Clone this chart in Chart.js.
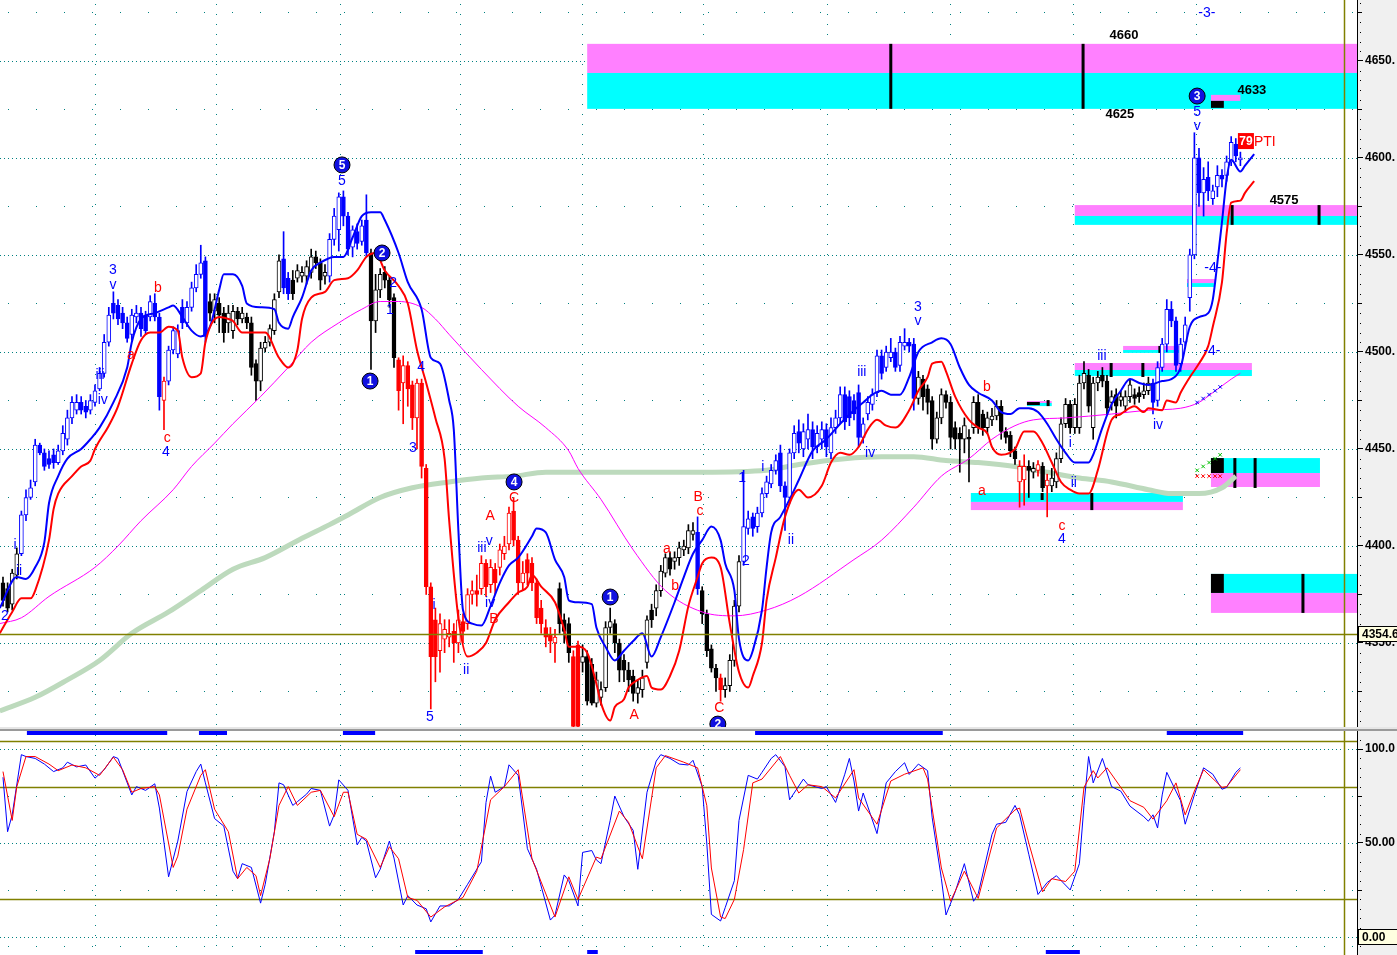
<!DOCTYPE html>
<html>
<head>
<meta charset="utf-8">
<title>Wave count chart</title>
<script src="https://cdn.jsdelivr.net/npm/chart.js@4.4.1/dist/chart.umd.min.js"></script>
<style>
  html, body { margin: 0; padding: 0; background: #fff; }
  #wrap { position: relative; width: 1397px; height: 955px; overflow: hidden; }
  #priceChart { position: absolute; left: 0; top: 0; }
  #sep { position: absolute; left: 0; top: 727px; width: 1397px; height: 4px;
         background: linear-gradient(#e6e6e6 0 50%, #9a9a9a 50% 100%); }
  #stochChart { position: absolute; left: 0; top: 731px; }
</style>
</head>
<body>
<div id="wrap">
  <canvas id="priceChart" width="1397" height="727"></canvas>
  <div id="sep"></div>
  <canvas id="stochChart" width="1397" height="224"></canvas>
</div>
<script>
// ---- price bars (one per session) ----
const opens = [
  4381,4378,4370,4385,4396,4416,4425,4433,4452,4448, 4445,4447,4443,4449,4455,4466,4470,4474,4472,4470,
  4474,4481,4489,4505,4525,4524,4520,4515,4509,4518, 4520,4519,4518,4525,4518,4475,4485,4501,4499,4523,
  4515,4523,4533,4540,4547,4526,4521,4525,4520,4515, 4511,4521,4517,4518,4515,4494,4485,4502,4505,4511,
  4531,4548,4538,4537,4538,4539,4539,4541,4549,4546, 4539,4539,4558,4563,4580,4570,4554,4562,4557,4568,
  4551,4516,4532,4541,4537,4528,4496,4484,4493,4483, 4466,4484,4440,4379,4362,4346,4352,4353,4356,4350,
  4361,4360,4375,4377,4378,4391,4380,4388,4389,4396, 4401,4418,4403,4381,4393,4391,4381,4368,4358,4354,
  4350,4378,4362,4360,4343,4349,4340,4343,4339,4319, 4322,4327,4358,4360,4350,4341,4336,4333,4324,4326,
  4340,4367,4368,4377,4386,4394,4392,4394,4398,4399, 4406,4407,4377,4365,4347,4337,4332,4326,4328,4341,
  4369,4392,4409,4415,4410,4417,4427,4432,4439,4448, 4431,4425,4448,4459,4450,4455,4460,4451,4455,4460,
  4448,4461,4466,4478,4477,4475,4479,4456,4468,4473, 4479,4498,4492,4497,4500,4493,4503,4505,4504,4476,
  4486,4481,4475,4455,4466,4478,4474,4461,4458,4455, 4456,4461,4474,4468,4461,4465,4467,4472,4459,4457,
  4449,4433,4434,4441,4438,4439,4441,4431,4431,4433, 4445,4463,4473,4461,4461,4484,4488,4461,4484,4488,
  4485,4474,4478,4475,4472,4477,4478,4479,4478,4480, 4484,4475,4492,4504,4522,4516,4494,4505,4528,4550,
  4600,4582,4590,4579,4585,4591,4591,4598,4607,4599
];
const highs = [
  4384,4381,4388,4399,4418,4429,4434,4455,4453,4450, 4449,4450,4452,4462,4470,4477,4478,4477,4475,4478,
  4483,4492,4509,4523,4531,4527,4523,4518,4522,4524, 4523,4521,4529,4530,4520,4487,4503,4513,4514,4527,
  4526,4536,4545,4555,4549,4530,4530,4528,4523,4524, 4524,4523,4523,4520,4518,4496,4505,4508,4514,4530,
  4550,4562,4541,4542,4545,4544,4547,4553,4552,4548, 4545,4561,4574,4582,4583,4572,4565,4566,4568,4581,
  4553,4540,4543,4544,4539,4530,4497,4498,4495,4485, 4486,4486,4442,4381,4368,4365,4362,4362,4360,4367,
  4365,4378,4382,4385,4395,4393,4393,4391,4401,4405, 4420,4425,4405,4392,4396,4394,4383,4372,4362,4358,
  4357,4381,4365,4363,4346,4351,4349,4346,4342,4335, 4330,4361,4368,4362,4352,4344,4340,4336,4331,4336,
  4364,4370,4380,4390,4396,4397,4397,4402,4403,4411, 4412,4415,4379,4367,4349,4339,4334,4332,4344,4372,
  4395,4439,4418,4417,4420,4430,4436,4442,4447,4452, 4433,4450,4462,4465,4463,4468,4464,4462,4464,4463,
  4466,4470,4482,4482,4480,4478,4483,4466,4477,4481, 4501,4501,4503,4507,4502,4508,4512,4507,4507,4490,
  4488,4483,4477,4469,4481,4480,4477,4464,4461,4466, 4460,4477,4478,4470,4469,4471,4475,4475,4461,4459,
  4451,4444,4447,4444,4443,4444,4443,4437,4440,4448, 4466,4476,4475,4476,4488,4495,4491,4487,4490,4492,
  4488,4480,4481,4480,4480,4486,4481,4482,4484,4487, 4486,4495,4507,4527,4526,4518,4507,4518,4553,4613,
  4605,4595,4598,4586,4596,4594,4601,4611,4610,4603
];
const lows = [
  4369,4366,4367,4383,4395,4413,4424,4431,4447,4439, 4440,4440,4442,4447,4452,4463,4468,4468,4466,4468,
  4472,4480,4487,4503,4517,4514,4512,4505,4506,4515, 4508,4509,4516,4516,4470,4460,4483,4499,4497,4512,
  4513,4521,4531,4538,4505,4516,4515,4510,4505,4510, 4507,4514,4515,4512,4488,4475,4480,4500,4503,4509,
  4528,4530,4527,4527,4536,4536,4535,4538,4543,4532, 4535,4536,4555,4552,4565,4550,4549,4553,4555,4549,
  4491,4510,4528,4533,4523,4492,4470,4463,4472,4460, 4450,4435,4375,4316,4330,4335,4345,4348,4340,4345,
  4350,4357,4370,4369,4375,4374,4376,4375,4385,4393, 4398,4400,4375,4377,4380,4377,4360,4355,4348,4345,
  4340,4355,4350,4340,4300,4300,4335,4318,4318,4317, 4318,4325,4355,4345,4330,4330,4325,4320,4319,4322,
  4337,4358,4364,4374,4384,4385,4388,4390,4395,4396, 4403,4375,4360,4343,4335,4325,4320,4322,4325,4338,
  4366,4390,4406,4405,4407,4415,4425,4430,4437,4428, 4408,4422,4445,4448,4446,4450,4445,4448,4450,4446,
  4445,4458,4463,4460,4462,4465,4451,4453,4465,4470, 4477,4486,4490,4495,4490,4490,4501,4500,4470,4473,
  4470,4468,4450,4453,4463,4471,4450,4450,4438,4448, 4433,4458,4458,4457,4458,4462,4465,4455,4453,4446,
  4442,4420,4421,4425,4435,4436,4428,4415,4428,4430, 4443,4461,4458,4458,4458,4481,4469,4455,4480,4482,
  4468,4470,4466,4472,4469,4474,4473,4474,4476,4478, 4468,4472,4490,4500,4513,4490,4490,4503,4521,4548,
  4575,4570,4578,4576,4580,4585,4588,4596,4598,4596
];
const closes = [
  4372,4368,4386,4396,4416,4425,4430,4452,4448,4441, 4442,4443,4449,4458,4466,4474,4474,4470,4469,4475,
  4480,4489,4505,4519,4520,4517,4515,4507,4519,4520, 4512,4511,4526,4518,4477,4485,4501,4511,4511,4515,
  4523,4533,4540,4546,4508,4520,4527,4519,4510,4520, 4521,4517,4520,4515,4492,4485,4502,4505,4512,4527,
  4547,4533,4530,4530,4542,4541,4544,4549,4546,4537, 4541,4558,4570,4580,4570,4553,4563,4556,4565,4551,
  4516,4532,4540,4537,4527,4497,4480,4493,4481,4466, 4484,4441,4379,4343,4343,4360,4357,4355,4350,4362,
  4356,4375,4377,4375,4391,4379,4389,4381,4398,4400, 4417,4403,4381,4386,4386,4381,4363,4360,4353,4351,
  4353,4360,4356,4345,4307,4307,4343,4320,4319,4331, 4326,4358,4361,4350,4336,4336,4331,4324,4327,4332,
  4362,4362,4377,4387,4394,4388,4394,4399,4400,4408, 4408,4378,4365,4346,4337,4332,4326,4328,4341,4369,
  4392,4410,4414,4409,4417,4427,4433,4439,4444,4431, 4425,4448,4458,4453,4459,4460,4451,4458,4460,4451,
  4461,4466,4478,4464,4466,4468,4456,4463,4474,4478, 4498,4489,4500,4500,4492,4505,4505,4503,4476,4487,
  4477,4474,4455,4466,4478,4474,4456,4455,4455,4462, 4455,4474,4461,4461,4466,4467,4472,4459,4456,4449,
  4445,4441,4441,4439,4440,4442,4430,4434,4435,4445, 4463,4473,4461,4473,4484,4489,4472,4484,4487,4485,
  4471,4477,4472,4477,4477,4483,4476,4477,4480,4484, 4474,4492,4504,4522,4516,4493,4504,4514,4550,4600,
  4582,4589,4583,4583,4591,4589,4598,4608,4601,4600
];
// trend state that colours each bar: 1 up, 0 neutral, -1 down
const trend = [
  0,0,0,0,1,1,1,1,1,1, 1,1,1,1,1,1,1,1,1,1, 1,1,1,1,1,1,1,1,1,1, 1,1,1,1,1,-1,1,1,1,1,
  1,1,1,1,1,0,0,0,0,0, 0,0,0,0,0,0,0,0,0,0, 0,1,1,0,0,0,0,0,0,0, 0,1,1,1,1,1,1,1,1,1,
  0,0,0,0,0,0,-1,-1,-1,-1, -1,-1,-1,-1,-1,-1,-1,-1,-1,-1, -1,-1,-1,-1,-1,-1,-1,-1,-1,-1, -1,-1,-1,-1,-1,-1,-1,-1,-1,-1,
  -1,0,0,0,-1,-1,0,0,0,0, 0,0,0,0,0,0,0,0,0,0, 0,0,0,0,0,0,0,0,0,0, 0,1,0,0,0,0,-1,0,0,0,
  0,1,1,1,1,1,1,1,1,1, 1,1,1,1,1,1,1,1,1,1, 1,1,1,1,1,1,1,1,1,1, 1,1,1,1,1,1,1,1,1,0,
  0,0,0,0,0,0,0,0,0,0, 0,0,0,0,0,0,0,0,0,0, 0,-1,-1,0,0,-1,0,-1,0,0, 0,0,0,0,0,0,0,0,0,0,
  0,0,0,0,0,0,0,0,0,0, 1,1,1,1,1,1,1,1,1,1, 1,1,1,1,1,1,1,1,1,1
];

// ---- overlay averages (bar index, price) ----
const fastIdx = [-0.7,3,5,7,9,10,12,14,17,19,21,24,27,28,30,33,36,37,39,41,43,45,47,48,50,52,53,56,59,60,62,63,65,67,69,72,74,76,78,80,82,83,86,88,91,93,95,97,98,99,100,102,104,106,108,110,112,115,116,118,120,122,123,125,128,129,131,133,135,137,139,141,143,146,148,150,152,154,156,157,159,160,162,163,165,166,167,169,171,173,176,179,182,185,187,189,191,193,195,197,199,202,204,206,208,210,212,215,217,219,221,223,225,227,229,231,233,236,237,239,241,243,245,247,249,252,254,256,258,260,262,263,264,265,266,267,269,270,272];
const fastVals = [4368,4384,4383,4389,4402,4422,4436,4445,4450,4455,4461,4474,4492,4505,4517,4520,4523,4524,4518,4511,4508,4513,4532,4540,4540,4534,4525,4523,4522,4515,4512,4518,4528,4542,4546,4549,4549,4559,4570,4572,4572,4568,4551,4536,4522,4497,4494,4475,4460,4408,4367,4360,4359,4369,4381,4390,4394,4405,4409,4407,4393,4384,4372,4371,4370,4358,4348,4341,4346,4351,4355,4343,4353,4371,4384,4396,4403,4410,4403,4391,4377,4352,4341,4346,4367,4389,4407,4415,4424,4434,4449,4455,4463,4470,4474,4478,4480,4478,4478,4487,4500,4505,4507,4504,4492,4483,4479,4475,4469,4468,4471,4471,4469,4463,4455,4448,4443,4443,4447,4461,4473,4480,4486,4484,4483,4485,4486,4492,4513,4518,4520,4527,4546,4567,4589,4599,4593,4596,4602];

const slowIdx = [-0.7,2,4,6,7,10,11,12,15,17,19,20,23,25,28,30,32,34,36,38,39,41,43,44,47,49,50,52,54,57,60,62,64,65,67,70,72,75,77,79,81,83,86,88,90,92,94,96,97,99,101,103,105,107,110,112,114,115,117,120,122,123,125,127,129,130,132,133,135,136,138,140,141,143,145,147,149,151,152,154,156,158,160,162,163,165,166,168,170,173,175,178,180,182,184,186,188,190,192,194,197,199,201,202,204,205,207,210,212,214,215,217,220,222,224,226,228,230,232,234,236,238,240,241,243,246,248,249,252,253,255,256,258,260,262,263,265,266,267,269,270,272];
const slowVals = [4355,4366,4373,4373,4377,4403,4419,4427,4436,4441,4444,4450,4462,4472,4494,4506,4510,4510,4513,4511,4497,4487,4489,4505,4518,4517,4516,4510,4510,4510,4497,4492,4501,4517,4528,4531,4537,4538,4542,4549,4551,4542,4534,4525,4501,4484,4466,4445,4413,4363,4343,4345,4350,4362,4371,4376,4379,4385,4379,4371,4357,4348,4348,4345,4329,4319,4310,4317,4321,4327,4331,4333,4327,4326,4333,4346,4369,4384,4391,4394,4389,4360,4335,4327,4333,4350,4372,4394,4415,4429,4425,4431,4443,4448,4447,4451,4460,4465,4462,4461,4470,4480,4487,4494,4495,4490,4477,4465,4461,4458,4451,4447,4450,4459,4459,4453,4443,4433,4429,4427,4427,4439,4458,4465,4468,4472,4469,4471,4470,4475,4474,4479,4487,4494,4503,4513,4536,4561,4577,4578,4582,4588];

const midIdx = [-0.7,4,10,20,25,30,37,41,46,50,56,62,67,73,78,82,86,91,94,97,104,112,118,123,125,130,137,144,152,159,166,173,185,191,198,204,210,215,220,224,231,241,249,256,260,263,267,269];
const midVals = [4360,4363,4374,4389,4400,4413,4429,4441,4453,4463,4477,4492,4505,4515,4522,4526,4526,4523,4517,4509,4491,4472,4461,4449,4440,4424,4398,4377,4366,4364,4367,4374,4393,4403,4420,4436,4445,4455,4462,4465,4466,4468,4470,4471,4474,4479,4486,4489];

const longIdx = [-0.7,7,14,21,28,36,43,50,57,65,71,75,82,89,97,104,111,118,125,137,152,166,173,183,191,198,205,212,220,227,234,241,249,254,260,265,268];
const longVals = [4315,4322,4331,4341,4355,4366,4377,4388,4394,4404,4411,4416,4425,4430,4433,4435,4436,4438,4438,4438,4438,4439,4442,4445,4446,4446,4444,4443,4441,4438,4435,4433,4429,4427,4427,4430,4436];

// small projection marks near the last bars
const markIdx = [259.6, 260.9, 262.2, 263.5, 264.6];
const greenMarks = [4439, 4441, 4443, 4445, 4447];
const redMarks = [4436, 4436, 4436, 4436, 4436];
const blueMarks = [4474, 4476, 4478, 4480, 4482];

// ---- stochastic ----
const kIdx = [0,1,2,4,5,7,9,11,13,14,16,18,20,22,24,25,28,29,31,33,34,36,38,40,42,43,44,46,48,50,51,52,54,56,57,59,60,61,63,64,66,67,69,71,72,73,75,77,78,79,81,82,84,85,87,88,90,92,93,95,97,99,101,104,105,106,107,109,110,112,114,116,119,120,122,123,125,126,128,129,130,132,133,135,137,138,140,142,143,145,147,149,150,152,153,154,156,157,159,160,162,164,165,167,168,170,171,174,175,178,179,181,183,184,185,186,187,190,192,194,196,197,199,201,202,204,205,207,209,211,212,215,216,218,220,221,223,225,227,229,232,234,235,236,237,239,241,243,245,248,249,250,251,252,253,256,257,259,261,263,265,266,268,269];
const kVals = [85,56,65,97,96,95,92,88,90,93,90.5,91.5,84.5,89,96,95,75.6,80,78,81.5,68.6,32,51,77.4,88,92,82,63,59,35,31,39,37,18,28,56,82,81,70,72,76,79,78,59,65,83.6,78,49,53,51,31.5,36,51,42,17,22,17,15,8,16.5,16.5,20,28,40,71.5,85.6,77,80,91.6,86,47,36,9,11.6,33,30,16.5,45,46,41,39,62,75,64,56.7,36,77,93.6,97,95,92,91.5,94,80,50,12,8.5,15.6,30,62,86,84,87.6,95,97,90.6,73,84,81,79,80,71.6,86.6,95,83,67,76.6,55,82,88,92.7,86.5,92,88.5,63.4,31,11.7,24,39,19,23,54.6,60,61,70,65,44,22.6,29,32.6,25,39,70,96,82,95,80,77.6,69.6,64,61.6,65,58,75.6,87.6,72.5,60,75.6,90,86.6,78.6,79.6,87.6,90];
const dIdx = [0,2,3,5,7,10,12,15,18,21,24,26,28,30,33,34,37,38,40,43,44,46,49,51,53,55,56,58,60,62,64,67,69,72,74,75,77,79,82,84,86,88,90,93,96,100,103,106,109,112,115,120,123,125,129,130,134,136,139,142,144,148,151,153,154,156,157,159,161,163,165,169,171,173,175,178,181,185,186,190,193,196,200,201,204,206,209,212,216,220,221,223,226,228,231,233,235,237,238,240,243,245,248,250,253,255,257,259,261,265,266,269];
const dVals = [88,62,80,96,96,92,88.5,91.5,90,86,95.7,89,77,79,80,75.6,37,43,68,86,89,68,56,31,37,32.6,22,41.6,70,80,70,77,78,64,77,77,54.6,52,37,48,41.6,21,19.5,10.6,16,21,35,73,80,89,41.6,10.6,32,20,42.5,41.6,67,61,41.6,90,96.5,93,90,70,36.7,10.6,9.8,20,46.5,82,84,96,86,76.6,81,80,74,89,74,60,83,86.6,90,84,36.7,19,35,20.5,58,67.6,68.6,50,24,31,29.5,35,79.6,88.5,84.6,90,79.6,72.5,69,62.7,72.5,82,65,77.6,89,79.6,80,89];

// signal strips (bar ranges)
const sigTopFrom = [5.2, 42.6, 73.9, 163.5, 253.0];
const sigTopTo = [35.7, 48.7, 80.9, 204.3, 269.6];
const sigBotFrom = [89.6, 127.0, 226.7];
const sigBotTo = [104.3, 129.3, 234.1];
const SIG_TOP = 108.5, SIG_BOT = -8;

// time grid (bar index) and reference levels
const timeGrid = [20, 46.3, 73.3, 99.3, 125.9, 152.2, 179.1, 205.9, 232.6, 259.3];
const REF_PRICE = 4354.6;
const REF_BAR = 291.5;

// ---- annotations (bar index, price) ----
// [start, end, upper, mid, lower, magentaOnTop]
const zones = [
  [127, 294.4, 4658.8, 4643.8, 4625.3, true],
  [233, 294.4, 4575.7, 4570.1, 4565.5, true],
  [257.4, 263.5, 4537.6, 4535.5, 4533.5, true],
  [243.5, 255.9, 4503.1, 4501.0, 4499.5, true],
  [233, 271.5, 4494.3, 4490.7, 4487.6, true],
  [222.6, 228, 4474.7, 4473.7, 4472.1, true],
  [210.4, 256.5, 4427.3, 4422.7, 4418.5, false],
  [262.6, 286.3, 4445.3, 4437.6, 4430.4, false],
  [262.6, 294.4, 4385.6, 4375.8, 4365.5, false],
  [262.6, 269, 4632.5, 4629.4, 4629.4, true]
];
const blocks = [
  [262.6, 265.4, 4629.4, 4625.8], [262.6, 265.4, 4445.3, 4437.6],
  [262.6, 265.4, 4385.6, 4375.8], [222.6, 225.4, 4474.2, 4472.6]
];
const stems = [
  [193, 4658.8, 4625.3], [234.8, 4658.8, 4625.3], [267.2, 4575.7, 4565.5], [286.1, 4575.7, 4565.5],
  [240.9, 4494.3, 4487.1], [247.8, 4494.3, 4487.1], [236.7, 4427.3, 4418.5], [267.8, 4445.3, 4429.9],
  [272.2, 4445.3, 4429.9], [282.6, 4385.6, 4365.5], [227.2, 4475.2, 4472.1], [225.9, 4427.3, 4423.7],
  [251.5, 4503.1, 4499.5]
];
const waveLabels = [
  ['2', 0.4, 4363.9, 'b'], ['i', 2.6, 4400.5, 'b'], ['ii', 3.5, 4387.1, 'b'], ['iii', 21.1, 4488.1, 'b'],
  ['iv', 21.7, 4475.3, 'b'], ['3', 23.9, 4542.3, 'b'], ['v', 23.9, 4534.5, 'b'], ['a', 27.8, 4498.4, 'r'],
  ['b', 33.7, 4533.0, 'r'], ['c', 35.7, 4455.7, 'r'], ['4', 35.4, 4448.4, 'b'], ['5', 73.7, 4588.1, 'b'],
  ['1', 84.1, 4521.6, 'b'], ['2', 84.8, 4535.6, 'b'], ['4', 90.9, 4492.3, 'b'], ['3', 89.1, 4450.5, 'b'],
  ['i', 93.7, 4369.6, 'b'], ['5', 92.8, 4311.8, 'b'], ['ii', 100.7, 4336.1, 'b'], ['iii', 104.1, 4398.9, 'b'],
  ['v', 105.7, 4402.5, 'b'], ['iv', 105.9, 4370.6, 'b'], ['A', 105.9, 4415.4, 'r'], ['B', 106.7, 4362.4, 'r'],
  ['C', 111.1, 4424.7, 'r'], ['A', 137.2, 4312.9, 'r'], ['a', 144.3, 4398.4, 'r'], ['b', 146.1, 4379.4, 'r'],
  ['B', 151.1, 4425.2, 'r'], ['c', 151.5, 4418.0, 'r'], ['C', 155.7, 4316.5, 'r'], ['1', 160.7, 4435.0, 'b'],
  ['2', 161.5, 4392.2, 'b'], ['i', 165.2, 4440.7, 'b'], ['ii', 171.3, 4403.1, 'b'], ['iii', 186.7, 4489.7, 'b'],
  ['iv', 188.5, 4447.9, 'b'], ['3', 198.9, 4523.2, 'b'], ['v', 198.9, 4515.9, 'b'], ['b', 213.9, 4481.9, 'r'],
  ['a', 212.8, 4428.3, 'r'], ['c', 230.2, 4410.3, 'r'], ['4', 230.2, 4403.6, 'b'], ['i', 232.0, 4453.1, 'b'],
  ['ii', 232.8, 4432.5, 'b'], ['iii', 238.9, 4497.9, 'b'], ['iv', 251.1, 4462.4, 'b'], ['5', 259.6, 4623.7, 'b'],
  ['v', 259.6, 4616.5, 'b'], ['-3-', 261.7, 4674.7, 'b'], ['-4-', 263.0, 4543.3, 'b'], ['-4-', 262.8, 4500.5, 'b']
];
const circled = [
  ['5', 73.7, 4596.4], ['2', 82.4, 4551.0], ['1', 79.8, 4485.0], ['4', 111.1, 4433.0],
  ['1', 132.0, 4373.7], ['2', 155.4, 4308.2], ['3', 259.6, 4631.9]
];
const levelLabels = [['4660', 243.7, 4663.4], ['4625', 242.8, 4622.2], ['4633', 271.5, 4635.0], ['4575', 278.5, 4578.3]];
const ptiTag = ['79', 'PTI', 270.2, 4608.7];

const FONT = 'Arial, "Liberation Sans", sans-serif';
Chart.defaults.font.family = FONT;

const trendColor = (t) => (t > 0 ? '#0000ff' : t < 0 ? '#ff0000' : '#000000');
const pts = (xs, ys) => xs.map((x, k) => ({ x: x, y: ys[k] }));

function segments(from, to, level) {
  const out = [];
  from.forEach((f, k) => {
    out.push({ x: f, y: level }, { x: to[k], y: level }, { x: to[k], y: null });
  });
  return out;
}

function seg(ctx, x1, y1, x2, y2) {
  ctx.beginPath();
  ctx.moveTo(x1, y1);
  ctx.lineTo(x2, y2);
  ctx.stroke();
}

function drawGrid(chart, dense, sparse) {
  const { ctx, chartArea: a, scales: { x, y } } = chart;
  ctx.save();
  ctx.strokeStyle = '#008080';
  ctx.lineWidth = 1;
  ctx.setLineDash([1, 3]);
  dense.forEach((v) => {
    const py = Math.round(y.getPixelForValue(v)) + 0.5;
    seg(ctx, a.left, py, a.right, py);
  });
  ctx.setLineDash([1, 27]);
  sparse.forEach((v) => {
    const py = Math.round(y.getPixelForValue(v)) + 0.5;
    seg(ctx, a.left + 8, py, a.right, py);
  });
  ctx.setLineDash([1, 9]);
  timeGrid.forEach((t) => {
    const px = Math.round(x.getPixelForValue(t)) + 0.5;
    seg(ctx, px, a.top + 4, px, a.bottom);
  });
  ctx.restore();
}

function drawRightPanel(chart) {
  const { ctx, chartArea: a, width, height } = chart;
  ctx.save();
  ctx.fillStyle = '#ffffff';
  ctx.fillRect(0, 0, width, height);
  ctx.fillStyle = '#f0f0f0';
  ctx.fillRect(a.right, 0, width - a.right, height);
  ctx.restore();
}

function drawMinorTicks(chart, from, to) {
  const { ctx, chartArea: a, scales: { y } } = chart;
  ctx.save();
  ctx.fillStyle = '#000';
  for (let v = from; v <= to; v += 5) {
    if (v % 50 === 0) continue;
    const py = Math.round(y.getPixelForValue(v));
    if (v % 25 === 0) ctx.fillRect(a.right + 1, py, 4, 1);
    else ctx.fillRect(a.right + 3, py, 1, 1);
  }
  ctx.restore();
}

function drawValueBox(chart, value, text) {
  const { ctx, chartArea: a, scales: { y } } = chart;
  const py = Math.round(y.getPixelForValue(value));
  ctx.save();
  ctx.fillStyle = '#ffffe0';
  ctx.fillRect(a.right + 1, py - 8, 45, 16);
  ctx.strokeStyle = '#000';
  ctx.lineWidth = 1;
  ctx.strokeRect(a.right + 1.5, py - 7.5, 45, 15);
  ctx.fillStyle = '#000';
  ctx.font = 'bold 12px ' + FONT;
  ctx.textAlign = 'left';
  ctx.textBaseline = 'middle';
  ctx.fillText(text, a.right + 5, py + 1);
  ctx.restore();
}

function drawOlive(chart, levels) {
  const { ctx, chartArea: a, scales: { x, y }, height } = chart;
  ctx.save();
  ctx.strokeStyle = '#808000';
  ctx.lineWidth = 1.5;
  levels.forEach((v) => {
    const py = Math.round(y.getPixelForValue(v)) + 0.5;
    seg(ctx, a.left, py, a.right, py);
  });
  const px = Math.round(x.getPixelForValue(REF_BAR)) + 0.5;
  seg(ctx, px, 0, px, height);
  ctx.restore();
}

const priceDecor = {
  id: 'priceDecor',
  beforeDraw(chart) {
    drawRightPanel(chart);
  },
  beforeDatasetsDraw(chart) {
    const { ctx, chartArea: a, scales: { x, y } } = chart;
    drawGrid(chart, [4350, 4400, 4450, 4500, 4550, 4600, 4650], [4325, 4375, 4425, 4475, 4525, 4575, 4625, 4675]);
    ctx.save();
    ctx.beginPath();
    ctx.rect(a.left, a.top, a.width, a.height);
    ctx.clip();
    zones.forEach(([s, e, top, mid, bot, magentaTop]) => {
      const x1 = x.getPixelForValue(s), x2 = x.getPixelForValue(e);
      const y1 = y.getPixelForValue(top), y2 = y.getPixelForValue(mid), y3 = y.getPixelForValue(bot);
      ctx.fillStyle = magentaTop ? '#ff80ff' : '#00ffff';
      ctx.fillRect(x1, y1, x2 - x1, y2 - y1);
      ctx.fillStyle = magentaTop ? '#00ffff' : '#ff80ff';
      ctx.fillRect(x1, y2, x2 - x1, y3 - y2);
    });
    ctx.fillStyle = '#000';
    blocks.forEach(([s, e, top, bot]) => {
      const x1 = x.getPixelForValue(s), x2 = x.getPixelForValue(e);
      const y1 = y.getPixelForValue(top), y2 = y.getPixelForValue(bot);
      ctx.fillRect(x1, y1, x2 - x1, y2 - y1);
    });
    stems.forEach(([i, top, bot]) => {
      const px = x.getPixelForValue(i);
      const y1 = y.getPixelForValue(top), y2 = y.getPixelForValue(bot);
      ctx.fillRect(px - 1.5, y1, 3, y2 - y1);
    });
    ctx.restore();
  },
  afterDatasetsDraw(chart) {
    const { ctx, chartArea: a, scales: { x, y } } = chart;
    drawOlive(chart, [REF_PRICE]);
    ctx.save();
    ctx.beginPath();
    ctx.rect(a.left, a.top, a.width, a.height);
    ctx.clip();
    ctx.textAlign = 'center';
    ctx.textBaseline = 'middle';
    ctx.font = '14px ' + FONT;
    waveLabels.forEach(([t, i, p, c]) => {
      ctx.fillStyle = c === 'r' ? '#ff0000' : '#0000ff';
      ctx.fillText(t, x.getPixelForValue(i), y.getPixelForValue(p));
    });
    circled.forEach(([t, i, p]) => {
      const cx = x.getPixelForValue(i), cy = y.getPixelForValue(p);
      ctx.beginPath();
      ctx.arc(cx, cy, 8, 0, Math.PI * 2);
      ctx.fillStyle = '#1010e0';
      ctx.fill();
      ctx.strokeStyle = '#000';
      ctx.lineWidth = 1;
      ctx.stroke();
      ctx.fillStyle = '#fff';
      ctx.font = 'bold 12px ' + FONT;
      ctx.fillText(t, cx, cy + 1);
    });
    ctx.fillStyle = '#000';
    ctx.font = 'bold 13px ' + FONT;
    levelLabels.forEach(([t, i, p]) => {
      ctx.fillText(t, x.getPixelForValue(i), y.getPixelForValue(p));
    });
    const [n, tag, ti, tp] = ptiTag;
    const tx = x.getPixelForValue(ti), ty = y.getPixelForValue(tp);
    ctx.fillStyle = '#ff0000';
    ctx.fillRect(tx - 8, ty - 8, 16, 16);
    ctx.fillStyle = '#fff';
    ctx.font = 'bold 12px ' + FONT;
    ctx.fillText(n, tx, ty + 1);
    ctx.fillStyle = '#ff0000';
    ctx.font = '14px ' + FONT;
    ctx.textAlign = 'left';
    ctx.fillText(tag, tx + 8, ty + 1);
    ctx.restore();
  },
  afterDraw(chart) {
    drawMinorTicks(chart, 4310, 4680);
    drawValueBox(chart, REF_PRICE, '4354.6');
  }
};

const stochDecor = {
  id: 'stochDecor',
  beforeDraw(chart) {
    drawRightPanel(chart);
  },
  beforeDatasetsDraw(chart) {
    drawGrid(chart, [0, 50, 100], [25, 75, -5]);
    drawOlive(chart, [80, 20, 104.3]);
  },
  afterDraw(chart) {
    drawMinorTicks(chart, -5, 105);
    drawValueBox(chart, 0, '0.00');
  }
};

const xScale = { type: 'linear', min: -0.65, max: 294.35, display: false, offset: false };
const axisFont = { family: FONT, size: 12, weight: 'bold' };
// keep the right axis 40px wide and let the plot reach the canvas edges
const fitAxis = (s) => { s.width = 40; s.paddingTop = 0; s.paddingBottom = 0; };

new Chart(document.getElementById('priceChart'), {
  type: 'bar',
  data: {
    datasets: [
      {
        type: 'line', label: 'Long average', data: pts(longIdx, longVals),
        borderColor: '#bddabd', borderWidth: 5, pointRadius: 0, cubicInterpolationMode: 'monotone', order: 6
      },
      {
        label: 'Range', grouped: false, order: 5,
        data: opens.map((_, i) => ({ x: i, y: [lows[i], highs[i]] })),
        barThickness: 1, minBarLength: 1,
        backgroundColor: (c) => trendColor(trend[c.dataIndex]), borderWidth: 0
      },
      {
        label: 'Body', grouped: false, order: 4,
        data: opens.map((o, i) => ({ x: i, y: [o, closes[i]] })),
        barThickness: 4, minBarLength: 1, borderWidth: 1, borderSkipped: false,
        borderColor: (c) => trendColor(trend[c.dataIndex]),
        backgroundColor: (c) => (closes[c.dataIndex] >= opens[c.dataIndex] ? '#ffffff' : trendColor(trend[c.dataIndex]))
      },
      {
        type: 'line', label: 'Mid average', data: pts(midIdx, midVals),
        borderColor: '#ff00ff', borderWidth: 1, pointRadius: 0, cubicInterpolationMode: 'monotone', order: 3
      },
      {
        type: 'line', label: 'Fast band', data: pts(fastIdx, fastVals),
        borderColor: '#0000ff', borderWidth: 2, pointRadius: 0, cubicInterpolationMode: 'monotone', order: 2
      },
      {
        type: 'line', label: 'Slow band', data: pts(slowIdx, slowVals),
        borderColor: '#ff0000', borderWidth: 2, pointRadius: 0, cubicInterpolationMode: 'monotone', order: 1
      },
      {
        type: 'line', label: 'up marks', data: pts(markIdx, greenMarks), showLine: false,
        pointStyle: 'crossRot', pointRadius: 2.5, borderColor: '#00c000', borderWidth: 1, order: 0
      },
      {
        type: 'line', label: 'down marks', data: pts(markIdx, redMarks), showLine: false,
        pointStyle: 'crossRot', pointRadius: 2.5, borderColor: '#ff0000', borderWidth: 1, order: 0
      },
      {
        type: 'line', label: 'band marks', data: pts(markIdx, blueMarks), showLine: false,
        pointStyle: 'crossRot', pointRadius: 2.5, borderColor: '#0000ff', borderWidth: 1, order: 0
      }
    ]
  },
  options: {
    responsive: false, animation: false, devicePixelRatio: 1, events: [],
    layout: { padding: 0, autoPadding: false },
    plugins: { legend: { display: false }, tooltip: { enabled: false } },
    scales: {
      x: xScale,
      y: {
        position: 'right', min: 4306.7, max: 4681.4,
        afterFit: fitAxis,
        ticks: { stepSize: 50, includeBounds: false, color: '#000', font: axisFont, padding: 2, callback: (v) => v + '.' },
        grid: { drawOnChartArea: false, drawTicks: true, tickLength: 6, tickColor: '#000' },
        border: { display: true, color: '#000', width: 1 }
      }
    }
  },
  plugins: [priceDecor]
});

new Chart(document.getElementById('stochChart'), {
  type: 'line',
  data: {
    datasets: [
      { label: '%K', data: pts(kIdx, kVals), borderColor: '#0000ff', borderWidth: 1, pointRadius: 0, tension: 0, order: 2 },
      { label: '%D', data: pts(dIdx, dVals), borderColor: '#ff0000', borderWidth: 1, pointRadius: 0, tension: 0, order: 1 },
      { label: 'upper signal', data: segments(sigTopFrom, sigTopTo, SIG_TOP), borderColor: '#0000ff', borderWidth: 4, pointRadius: 0, spanGaps: false, borderCapStyle: 'butt', order: 0 },
      { label: 'lower signal', data: segments(sigBotFrom, sigBotTo, SIG_BOT), borderColor: '#0000ff', borderWidth: 4, pointRadius: 0, spanGaps: false, borderCapStyle: 'butt', order: 0 }
    ]
  },
  options: {
    responsive: false, animation: false, devicePixelRatio: 1, events: [],
    layout: { padding: 0, autoPadding: false },
    plugins: { legend: { display: false }, tooltip: { enabled: false } },
    scales: {
      x: xScale,
      y: {
        position: 'right', min: -9.6, max: 109.6,
        afterFit: fitAxis,
        ticks: {
          stepSize: 50, includeBounds: false, color: '#000', font: axisFont, padding: 2,
          callback: (v) => (v === 100 ? '100.0' : v === 50 ? '50.00' : '')
        },
        grid: { drawOnChartArea: false, drawTicks: true, tickLength: 6, tickColor: '#000' },
        border: { display: true, color: '#000', width: 1 }
      }
    }
  },
  plugins: [stochDecor]
});
</script>
</body>
</html>
